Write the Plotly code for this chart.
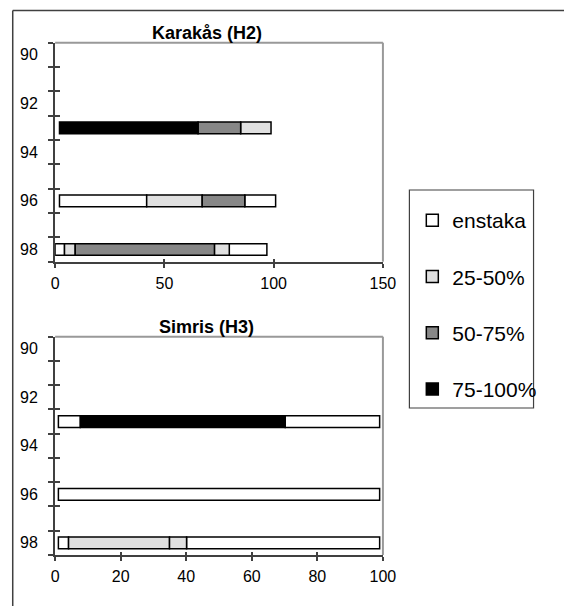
import plotly.graph_objects as go

W, H = 564, 606

# ---- data -------------------------------------------------------------
classes = ["enstaka", "25-50%", "50-75%", "75-100%"]
class_colors = ["#ffffff", "#e0e0e0", "#878787", "#000000"]

# Karakås (H2): segment edges along the transect and the class of each segment
k_rows = [93, 96, 98]
k93_edges = [2, 65.4, 84.9, 98.8]
k93_classes = ["75-100%", "50-75%", "25-50%"]
k96_edges = [2, 41.9, 67.3, 86.8, 100.9]
k96_classes = ["enstaka", "25-50%", "50-75%", "enstaka"]
k98_edges = [0, 4.3, 9.2, 72.9, 79.7, 96.9]
k98_classes = ["enstaka", "25-50%", "50-75%", "25-50%", "enstaka"]

# Simris (H3)
s_rows = [93, 96, 98]
s93_edges = [1, 7.7, 70.2, 99]
s93_classes = ["enstaka", "75-100%", "enstaka"]
s96_edges = [1, 99]
s96_classes = ["enstaka"]
s98_edges = [1, 4.1, 34.9, 40.1, 99]
s98_classes = ["enstaka", "25-50%", "25-50%", "enstaka"]

year_labels = [90, 92, 94, 96, 98]
k_xticks = [0, 50, 100, 150]
s_xticks = [0, 20, 40, 60, 80, 100]

FONT = "Liberation Sans, Arial, sans-serif"
AXIS_COLOR = "#404040"


def segments(rows, edges_list, classes_list):
    """Flatten rows into (row, start, length, class) tuples."""
    out = []
    for row, edges, cls in zip(rows, edges_list, classes_list):
        for i, c in enumerate(cls):
            out.append((row, edges[i], edges[i + 1] - edges[i], c))
    return out


k_segs = segments(k_rows, [k93_edges, k96_edges, k98_edges],
                  [k93_classes, k96_classes, k98_classes])
s_segs = segments(s_rows, [s93_edges, s96_edges, s98_edges],
                  [s93_classes, s96_classes, s98_classes])

fig = go.Figure()

for cls, color in zip(classes, class_colors):
    for segs, xa, ya, show in ((k_segs, "x", "y", True), (s_segs, "x2", "y2", False)):
        sel = [s for s in segs if s[3] == cls]
        if not sel:
            continue
        fig.add_trace(go.Bar(
            orientation="h",
            y=[s[0] for s in sel],
            base=[s[1] for s in sel],
            x=[s[2] for s in sel],
            width=0.48,
            name=cls,
            legendgroup=cls,
            showlegend=show,
            marker=dict(color=color, line=dict(color="#000000", width=1.5)),
            xaxis=xa, yaxis=ya,
        ))

# empty traces so the overlay tick axes get drawn
for xa, ya in (("x3", "y3"), ("x4", "y4")):
    fig.add_trace(go.Scatter(x=[None], y=[None], xaxis=xa, yaxis=ya,
                             showlegend=False, hoverinfo="skip"))

dom_x = [52.7 / W, 390.7 / W]
dom_y_top = [1 - 261.7 / H, 1 - 42.7 / H]
dom_y_bot = [1 - 555.0 / H, 1 - 336.7 / H]
bounds = [v + 0.5 for v in range(89, 99)]
yrange = [98.5, 89.5]

tickfont = dict(family=FONT, size=16, color="#000000")


def xaxis_main(dom, anchor, rng, vals):
    return dict(domain=dom, anchor=anchor, range=rng, tickmode="array",
                tickvals=vals, ticks="outside", ticklen=4, tickwidth=1.5,
                tickcolor=AXIS_COLOR, showline=True, linecolor=AXIS_COLOR,
                linewidth=2, showgrid=False, zeroline=False, tickfont=tickfont,
                ticklabelstandoff=2, fixedrange=True)


def yaxis_main(dom, anchor):
    return dict(domain=dom, anchor=anchor, range=yrange, tickmode="array",
                tickvals=year_labels, ticks="", showline=True,
                linecolor=AXIS_COLOR, linewidth=2, showgrid=False,
                zeroline=False, tickfont=tickfont, ticklabelstandoff=12,
                minor=dict(tickmode="array", tickvals=bounds, ticks="outside",
                           ticklen=5, tickwidth=1.5, tickcolor=AXIS_COLOR,
                           showgrid=False),
                fixedrange=True)


def xaxis_inner(over, anchor, rng, vals):
    return dict(overlaying=over, anchor=anchor, range=rng, tickmode="array",
                tickvals=vals, ticks="inside", ticklen=3, tickwidth=1.5,
                tickcolor=AXIS_COLOR, showticklabels=False, showline=False,
                showgrid=False, zeroline=False, side="bottom", fixedrange=True)


def yaxis_inner(over, anchor):
    return dict(overlaying=over, anchor=anchor, range=yrange, tickmode="array",
                tickvals=bounds, ticks="inside", ticklen=5, tickwidth=1.5,
                tickcolor=AXIS_COLOR, showticklabels=False, showline=False,
                showgrid=False, zeroline=False, side="left", fixedrange=True)


fig.update_layout(
    width=W, height=H,
    margin=dict(l=0, r=0, t=0, b=0),
    paper_bgcolor="#ffffff", plot_bgcolor="#ffffff",
    barmode="overlay",
    font=dict(family=FONT, color="#000000"),
    xaxis=xaxis_main(dom_x, "y", [0, 150], k_xticks),
    yaxis=yaxis_main(dom_y_top, "x"),
    xaxis2=xaxis_main(dom_x, "y2", [0, 100], s_xticks),
    yaxis2=yaxis_main(dom_y_bot, "x2"),
    xaxis3=xaxis_inner("x", "y3", [0, 150], k_xticks),
    yaxis3=yaxis_inner("y", "x3"),
    xaxis4=xaxis_inner("x2", "y4", [0, 100], s_xticks),
    yaxis4=yaxis_inner("y2", "x4"),
    legend=dict(x=421 / W, y=1 - 200 / H, xanchor="left", yanchor="top",
                bgcolor="rgba(0,0,0,0)", borderwidth=0,
                font=dict(family=FONT, size=21, color="#000000"),
                traceorder="grouped", tracegroupgap=26, itemwidth=30),
    showlegend=True,
)

# plot-area frame (top and right edges) in grey
for xa, ya in (("x", "y"), ("x2", "y2")):
    fig.add_shape(type="line", xref=f"{xa} domain", yref=f"{ya} domain",
                  x0=0, x1=1, y0=1, y1=1, line=dict(color="#999999", width=2))
    fig.add_shape(type="line", xref=f"{xa} domain", yref=f"{ya} domain",
                  x0=1, x1=1, y0=0, y1=1, line=dict(color="#999999", width=2))

# legend box
fig.add_shape(type="rect", xref="paper", yref="paper",
              x0=418 / W, x1=546 / W, y0=1 - 408 / H, y1=1 - 190 / H,
              line=dict(color="#404040", width=1.2), fillcolor="rgba(0,0,0,0)")

# outer chart frame (top and left edges), running off the page on the right
fig.add_shape(type="line", xref="paper", yref="paper",
              x0=9 / W, x1=1.1, y0=1 - 10.5 / H, y1=1 - 10.5 / H,
              line=dict(color="#404040", width=1.5))
fig.add_shape(type="line", xref="paper", yref="paper",
              x0=9 / W, x1=9 / W, y0=-0.1, y1=1 - 10.5 / H,
              line=dict(color="#404040", width=1.5))

# subplot titles
title_font = dict(family=FONT, size=18, color="#000000", weight="bold")
fig.add_annotation(text="Karakås (H2)", xref="paper", yref="paper",
                   x=209.5 / W, y=1 - 33 / H, xanchor="center", yanchor="middle",
                   showarrow=False, font=title_font)
fig.add_annotation(text="Simris (H3)", xref="paper", yref="paper",
                   x=208.7 / W, y=1 - 327.3 / H, xanchor="center",
                   yanchor="middle", showarrow=False, font=title_font)

page_style = (
    "document.documentElement.style.overflow='hidden';"
    "document.body.style.overflow='hidden';"
    "document.body.style.margin='0';"
)
fig.write_html("out.html", config={"displayModeBar": False},
               post_script=page_style)
